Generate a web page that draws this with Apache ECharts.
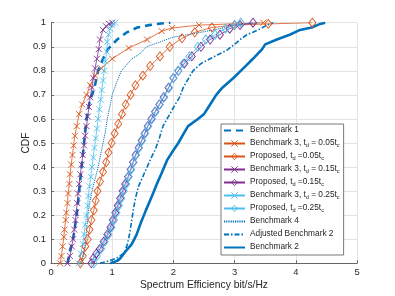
<!DOCTYPE html>
<html><head><meta charset="utf-8">
<script src="https://cdn.jsdelivr.net/npm/echarts@6/dist/echarts.min.js"></script>
<style>html,body{margin:0;padding:0;background:#fff}#c{width:395px;height:296px}</style>
</head><body><div id="c"></div>
<script>
// ---- data (x = spectrum efficiency, y = CDF) ----
const bench1 = [[0.27,0],[0.31,0.05],[0.36,0.1],[0.42,0.2],[0.46,0.3],[0.5,0.4],[0.54,0.5],[0.58,0.6],[0.63,0.67],[0.71,0.73],[0.77,0.8],[0.85,0.85],[0.93,0.89],[1.08,0.93],[1.24,0.96],[1.41,0.98],[1.6,0.99],[1.8,0.997],[1.95,1.0]];
const b3td05 = [[0.15,0],[0.17,0.03],[0.19,0.07],[0.21,0.11],[0.22,0.14],[0.24,0.18],[0.25,0.21],[0.27,0.25],[0.28,0.29],[0.3,0.33],[0.31,0.37],[0.33,0.41],[0.35,0.45],[0.37,0.49],[0.39,0.53],[0.42,0.57],[0.46,0.62],[0.51,0.66],[0.58,0.70],[0.64,0.74],[0.72,0.78],[0.82,0.81],[1.0,0.85],[1.27,0.895],[1.57,0.93],[1.81,0.965],[1.98,0.978],[2.42,0.99],[3.47,1.0]];
const prop05 = [[0.48,0],[0.52,0.03],[0.56,0.07],[0.6,0.1],[0.63,0.14],[0.66,0.18],[0.7,0.22],[0.73,0.26],[0.76,0.3],[0.8,0.34],[0.85,0.38],[0.9,0.42],[0.94,0.46],[0.99,0.5],[1.04,0.54],[1.1,0.58],[1.16,0.62],[1.22,0.66],[1.3,0.7],[1.38,0.74],[1.5,0.78],[1.62,0.82],[1.78,0.86],[1.94,0.9],[2.14,0.935],[2.35,0.96],[2.63,0.98],[3.0,0.99],[3.55,0.995],[4.27,1.0]];
const b3td15 = [[0.27,0],[0.31,0.03],[0.34,0.07],[0.36,0.1],[0.38,0.14],[0.4,0.18],[0.41,0.21],[0.43,0.25],[0.44,0.29],[0.46,0.33],[0.48,0.37],[0.5,0.41],[0.52,0.45],[0.54,0.49],[0.56,0.53],[0.58,0.57],[0.6,0.61],[0.62,0.65],[0.64,0.69],[0.67,0.73],[0.69,0.77],[0.72,0.81],[0.75,0.85],[0.78,0.89],[0.8,0.93],[0.85,0.97],[0.9,0.985],[0.95,0.995],[1.0,1.0]];
const prop15 = [[0.66,0],[0.69,0.02],[0.74,0.04],[0.8,0.06],[0.86,0.09],[0.92,0.12],[0.97,0.15],[1.01,0.18],[1.05,0.21],[1.09,0.24],[1.13,0.27],[1.17,0.3],[1.21,0.33],[1.26,0.36],[1.3,0.39],[1.34,0.42],[1.38,0.45],[1.43,0.48],[1.48,0.51],[1.53,0.54],[1.58,0.57],[1.64,0.6],[1.7,0.63],[1.77,0.66],[1.84,0.69],[1.92,0.73],[2.0,0.77],[2.08,0.8],[2.18,0.83],[2.3,0.86],[2.45,0.9],[2.6,0.93],[2.76,0.95],[2.92,0.975],[3.09,0.99],[3.3,1.0]];
const b3td25 = [[0.45,0],[0.49,0.04],[0.52,0.08],[0.54,0.12],[0.56,0.16],[0.58,0.2],[0.6,0.24],[0.61,0.28],[0.63,0.32],[0.65,0.36],[0.67,0.4],[0.69,0.44],[0.71,0.48],[0.73,0.52],[0.75,0.56],[0.77,0.6],[0.79,0.64],[0.81,0.68],[0.83,0.72],[0.85,0.76],[0.87,0.8],[0.89,0.84],[0.91,0.88],[0.92,0.92],[0.94,0.95],[0.97,0.975],[1.0,0.99],[1.05,1.0]];
const prop25 = [[0.7,0],[0.75,0.03],[0.82,0.06],[0.88,0.09],[0.94,0.12],[0.99,0.15],[1.03,0.18],[1.07,0.21],[1.11,0.24],[1.15,0.27],[1.19,0.3],[1.23,0.33],[1.27,0.36],[1.31,0.39],[1.35,0.42],[1.39,0.45],[1.44,0.48],[1.49,0.51],[1.54,0.54],[1.59,0.57],[1.65,0.6],[1.71,0.63],[1.78,0.66],[1.85,0.69],[1.93,0.73],[2.0,0.77],[2.08,0.8],[2.16,0.83],[2.26,0.86],[2.4,0.9],[2.53,0.93],[2.68,0.95],[2.85,0.975],[3.0,0.99],[3.1,1.0]];
const bench4 = [[0.5,0],[0.53,0.03],[0.56,0.08],[0.58,0.13],[0.6,0.2],[0.63,0.25],[0.67,0.3],[0.72,0.35],[0.77,0.4],[0.81,0.45],[0.85,0.5],[0.89,0.55],[0.92,0.6],[0.96,0.65],[1.0,0.7],[1.07,0.75],[1.15,0.8],[1.32,0.85],[1.45,0.87],[1.56,0.9],[1.78,0.92],[2.0,0.94],[2.22,0.95],[2.45,0.96],[2.65,0.97],[2.85,0.98],[2.97,0.99],[3.2,0.995],[3.4,1.0]];
const adjBench2 = [[0.8,0],[0.95,0.01],[1.1,0.025],[1.2,0.045],[1.25,0.08],[1.29,0.13],[1.32,0.18],[1.35,0.23],[1.38,0.27],[1.43,0.32],[1.5,0.36],[1.57,0.4],[1.64,0.44],[1.7,0.47],[1.77,0.52],[1.83,0.57],[1.94,0.62],[2.03,0.66],[2.1,0.69],[2.16,0.73],[2.25,0.77],[2.32,0.8],[2.45,0.83],[2.6,0.85],[2.75,0.87],[2.87,0.885],[3.0,0.91],[3.09,0.93],[3.2,0.95],[3.3,0.96],[3.42,0.975],[3.53,0.99],[3.63,1.0]];
const bench2 = [[0.97,0],[1.08,0.01],[1.13,0.02],[1.22,0.05],[1.32,0.08],[1.4,0.12],[1.47,0.17],[1.55,0.22],[1.65,0.28],[1.73,0.33],[1.8,0.37],[1.9,0.43],[2.0,0.47],[2.08,0.5],[2.17,0.54],[2.24,0.57],[2.4,0.6],[2.5,0.62],[2.6,0.66],[2.7,0.7],[2.8,0.73],[2.98,0.77],[3.1,0.8],[3.2,0.825],[3.3,0.85],[3.45,0.89],[3.5,0.91],[3.69,0.93],[3.9,0.95],[4.07,0.97],[4.26,0.98],[4.4,0.995],[4.48,1.0]];
const seriesNames = ['Benchmark 1','Benchmark 3, t_d = 0.05t_c','Proposed, t_d =0.05t_c','Benchmark 3, t_d = 0.15t_c','Proposed, t_d =0.15t_c','Benchmark 3, t_d = 0.25t_c','Proposed, t_d =0.25t_c','Benchmark 4','Adjusted Benchmark 2','Benchmark 2'];
const xTickValues = [0,1,2,3,4,5];
const yTickStep = 0.1;

// ---- styling ----
const BLUE='#0072BD', ORANGE='#D95319', PURPLE='#7E2F8E', CYAN='#4DBEEE';
const FONT = '"Liberation Sans", Arial, Helvetica, sans-serif';
const XSYM = 'path://M0,0L10,10M0,10L10,0';
const legendData = [];

function markerSeries(name, data, color, sym) {
  const isX = sym === 'x';
  const itemStyle = {color:'rgba(0,0,0,0)', borderColor:color, borderWidth:0.9};
  legendData.push({name, itemStyle});
  return {
    name, type:'line', data,
    symbol: isX ? XSYM : 'diamond',
    symbolSize: isX ? [6,6] : [7,9],
    itemStyle,
    lineStyle:{color, width:0.8},
    emphasis:{disabled:true}
  };
}
function plainSeries(name, data, width, type) {
  legendData.push({name, itemStyle:{opacity:0}});
  return {
    name, type:'line', data, symbol:'none',
    itemStyle:{color:BLUE},
    lineStyle:{color:BLUE, width, type},
    emphasis:{disabled:true}
  };
}

const series = [
  plainSeries(seriesNames[0], bench1, 2.6, [7,5]),
  markerSeries(seriesNames[1], b3td05, ORANGE, 'x'),
  markerSeries(seriesNames[2], prop05, ORANGE, 'd'),
  markerSeries(seriesNames[3], b3td15, PURPLE, 'x'),
  markerSeries(seriesNames[4], prop15, PURPLE, 'd'),
  markerSeries(seriesNames[5], b3td25, CYAN, 'x'),
  markerSeries(seriesNames[6], prop25, CYAN, 'd'),
  plainSeries(seriesNames[7], bench4, 1, [1.2,1]),
  plainSeries(seriesNames[8], adjBench2, 1.6, [5,2,1.5,2]),
  plainSeries(seriesNames[9], bench2, 2.6, 'solid')
];

function richName(name) {
  const parts = name.split(/_([a-z])/);
  let out = '';
  parts.forEach((p, i) => {
    if (!p) return;
    out += (i % 2 === 0 ? '{n|' : '{s|') + p + '}';
  });
  return out;
}

const chart = echarts.init(document.getElementById('c'), null, {renderer:'canvas'});
chart.setOption({
  animation:false,
  backgroundColor:'#fff',
  textStyle:{fontFamily:FONT},
  grid:{left:51, right:38, top:22.7, bottom:32.7, outerBoundsMode:'none'},
  xAxis:{
    type:'value', min:xTickValues[0], max:xTickValues[xTickValues.length-1], interval:1,
    name:'Spectrum Efficiency bit/s/Hz', nameLocation:'middle', nameGap:17, nameMoveOverlap:false,
    nameTextStyle:{fontSize:10.3, color:'#262626', fontFamily:FONT},
    axisLine:{show:true, lineStyle:{color:'#666', width:1}},
    axisTick:{show:true, inside:true, length:3, lineStyle:{color:'#666'}},
    axisLabel:{fontSize:9.4, color:'#262626', margin:5, fontFamily:FONT},
    splitLine:{show:true, lineStyle:{color:'#e3e3e3', width:1}}
  },
  yAxis:{
    type:'value', min:0, max:1, interval:yTickStep,
    name:'CDF', nameLocation:'middle', nameGap:20, nameMoveOverlap:false,
    nameTextStyle:{fontSize:10.3, color:'#262626', fontFamily:FONT},
    axisLine:{show:true, lineStyle:{color:'#666', width:1}},
    axisTick:{show:true, inside:true, length:3, lineStyle:{color:'#666'}},
    axisLabel:{fontSize:9.4, color:'#262626', margin:5, fontFamily:FONT},
    splitLine:{show:true, lineStyle:{color:'#e3e3e3', width:1}}
  },
  legend:{
    orient:'vertical', left:221, top:124,
    itemWidth:21, itemHeight:8, itemGap:3,
    padding:[2,4,2,2],
    backgroundColor:'#fff', borderColor:'#555', borderWidth:0.8, borderRadius:0,
    selectedMode:false,
    data:legendData,
    formatter: richName,
    textStyle:{
      fontFamily:FONT, color:'#262626', fontSize:8.3,
      rich:{
        n:{fontSize:8.3, fontFamily:FONT, color:'#262626', lineHeight:9, padding:[0,0,2,0], verticalAlign:'top'},
        s:{fontSize:5.6, fontFamily:FONT, color:'#262626', lineHeight:6, verticalAlign:'bottom'}
      }
    }
  },
  series
});
</script></body></html>
